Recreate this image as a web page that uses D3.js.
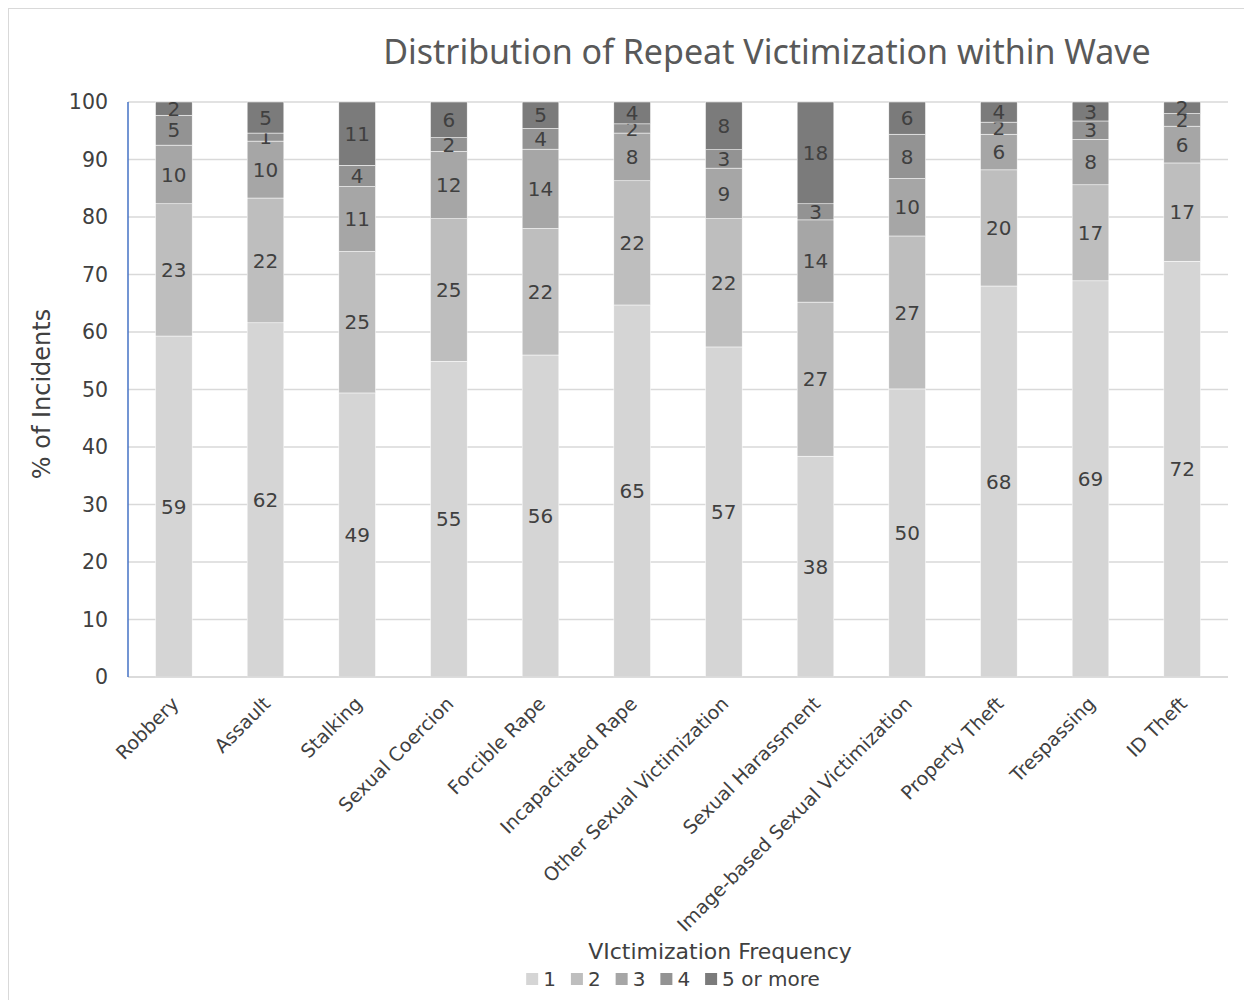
<!DOCTYPE html>
<html><head><meta charset="utf-8">
<script src="https://cdn.jsdelivr.net/npm/d3@7"></script>
<style>body{margin:0;background:#fff;} svg{display:block;font-family:"DejaVu Sans",sans-serif;}</style>
</head><body>
<svg id="c" width="1244" height="1000"></svg>
<script>
const categories = ["Robbery","Assault","Stalking","Sexual Coercion","Forcible Rape","Incapacitated Rape","Other Sexual Victimization","Sexual Harassment","Image-based Sexual Victimization","Property Theft","Trespassing","ID Theft"];
const seriesNames = ["1","2","3","4","5 or more"];
const freq1 = [59.3,61.6,49.4,54.9,56.0,64.7,57.4,38.4,50.1,68.0,68.9,72.3];
const freq2 = [23.0,21.7,24.6,24.8,22.0,21.6,22.3,26.8,26.6,20.2,16.7,17.1];
const freq3 = [10.2,9.9,11.3,11.7,13.8,8.3,8.8,14.3,10.0,6.2,7.9,6.4];
const freq4 = [5.2,1.4,3.7,2.4,3.6,1.6,3.2,2.8,7.7,2.1,3.2,2.2];
const freq5 = [2.3,5.4,11.0,6.2,4.6,3.8,8.3,17.7,5.6,3.5,3.3,2.0];
const yTicks = [0,10,20,30,40,50,60,70,80,90,100];
const colors = ["#d5d5d5","#bebebe","#a6a6a6","#939393","#7b7b7b"];

const seriesVals = [freq1,freq2,freq3,freq4,freq5];
const rows = categories.map((c,i)=>{const r={cat:c}; seriesNames.forEach((s,j)=>r[s]=seriesVals[j][i]); return r;});
const stack = d3.stack().keys(seriesNames)(rows);

const svg = d3.select("#c");
svg.append("rect").attr("x",8.5).attr("y",8.5).attr("width",1260).attr("height",1010).attr("fill","#fff").attr("stroke","#d9d9d9");

const L=128,R=1228,T=102,B=677;
const x = d3.scaleBand().domain(categories).range([L,R]).paddingInner(0.6).paddingOuter(0.3);
const y = d3.scaleLinear().domain([0,100]).range([B,T]);

svg.append("text").attr("x",767).attr("y",64).attr("text-anchor","middle").attr("font-size",34).attr("font-family","'Noto Sans',sans-serif").attr("fill","#595959").text("Distribution of Repeat Victimization within Wave");

const g = svg.append("g");
g.selectAll("line.grid").data(yTicks).join("line").attr("x1",L).attr("x2",R).attr("y1",d=>y(d)).attr("y2",d=>y(d)).attr("stroke","#d9d9d9").attr("stroke-width",1.5);

const ya = svg.append("g").attr("transform",`translate(${L},0)`).call(d3.axisLeft(y).tickValues(yTicks).tickSize(0).tickPadding(20));
ya.select(".domain").remove();
ya.selectAll("text").attr("font-size",20.5).attr("fill","#404040").attr("font-family","'DejaVu Sans',sans-serif");

stack.forEach((s,j)=>{
  const gg = svg.append("g");
  gg.selectAll("rect").data(s).join("rect")
    .attr("x",d=>x(d.data.cat)).attr("width",x.bandwidth())
    .attr("y",d=>y(d[1])).attr("height",d=>y(d[0])-y(d[1]))
    .attr("fill",colors[j]).attr("stroke","#fff").attr("stroke-width",0.5);
  gg.selectAll("text").data(s).join("text")
    .attr("x",d=>x(d.data.cat)+x.bandwidth()/2)
    .attr("y",d=>(y(d[0])+y(d[1]))/2).attr("dy","0.36em")
    .attr("text-anchor","middle").attr("font-size",20).attr("fill","#404040")
    .text(d=>d3.format(".0f")(d[1]-d[0]));
});

svg.append("line").attr("x1",L).attr("x2",R).attr("y1",B).attr("y2",B).attr("stroke","#d9d9d9").attr("stroke-width",1.5);
svg.append("line").attr("x1",L).attr("x2",L).attr("y1",T).attr("y2",B).attr("stroke","#4472c4").attr("stroke-width",1.5);

const xa = svg.append("g").attr("transform",`translate(0,${B})`).call(d3.axisBottom(x).tickSize(0).tickPadding(0));
xa.select(".domain").remove();
xa.selectAll("text").attr("font-size",19).attr("fill","#404040").attr("font-family","'DejaVu Sans',sans-serif")
  .attr("text-anchor","end").attr("dy",0).attr("transform","translate(6,28) rotate(-45)");

svg.append("text").attr("transform","translate(50,394) rotate(-90)").attr("text-anchor","middle").attr("font-size",24).attr("fill","#404040").text("% of Incidents");

svg.append("text").attr("x",720).attr("y",959).attr("text-anchor","middle").attr("font-size",22).attr("fill","#404040").text("VIctimization Frequency");

const legY = 979;
const lg = svg.append("g");
const items = lg.selectAll("g").data(seriesNames).join("g");
items.append("rect").attr("x",0).attr("y",-6).attr("width",12).attr("height",12).attr("fill",(d,i)=>colors[i]);
items.append("text").attr("x",17).attr("y",0).attr("dy","0.36em").attr("font-size",20).attr("fill","#404040").text(d=>d);
let cx = 0; const offs=[];
items.each(function(){ offs.push(cx); cx += 17 + d3.select(this).select("text").node().getComputedTextLength() + 15; });
const totalW = cx - 15;
const startX = 673 - totalW/2;
items.attr("transform",(d,i)=>`translate(${startX+offs[i]},${legY})`);
</script>
</body></html>
